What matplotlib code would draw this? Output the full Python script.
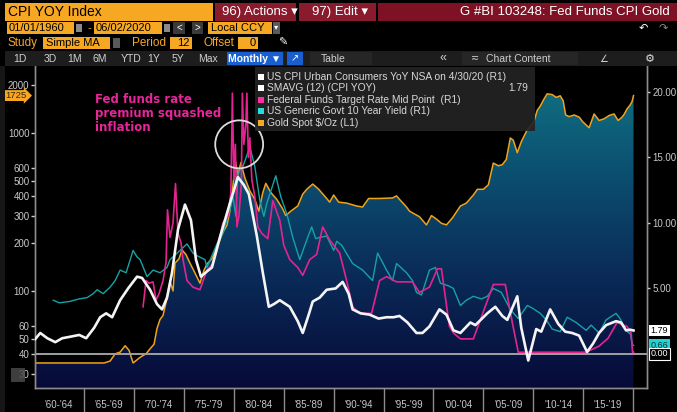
import matplotlib
matplotlib.use("Agg")
import matplotlib.pyplot as plt
import matplotlib.transforms as mtransforms
from matplotlib.colors import LinearSegmentedColormap
from matplotlib.patches import Rectangle, Ellipse
from matplotlib.ticker import NullLocator, NullFormatter
import numpy as np

plt.rcParams['font.family'] = ['Liberation Sans', 'DejaVu Sans']

# ---- data ----
# gold spot $/oz (left log axis)
gold_years = [1960.05, 1967.0, 1967.6, 1968.1, 1968.6, 1969.1, 1969.5, 1969.9, 1970.6, 1971.2,
              1971.6, 1972.0, 1972.3, 1972.6, 1972.9, 1973.3, 1973.6, 1973.9, 1974.1, 1974.5,
              1974.8, 1975.2, 1975.6, 1976.1, 1976.6, 1977.0, 1977.3, 1977.8, 1978.3, 1978.6,
              1978.9, 1979.3, 1979.6, 1979.9, 1980.15, 1980.4, 1980.7, 1981.1, 1981.6, 1982.1,
              1982.5, 1982.9, 1983.2, 1983.7, 1984.3, 1984.9, 1985.2, 1985.7, 1986.4, 1986.9,
              1987.3, 1987.9, 1988.5, 1989.3, 1989.6, 1990.0, 1990.5, 1991.3, 1992.3, 1992.9,
              1993.5, 1994.6, 1995.9, 1996.3, 1996.6, 1997.3, 1997.6, 1998.6, 1999.3, 1999.8,
              2000.3, 2000.8, 2001.3, 2001.9, 2002.7, 2003.3, 2004.0, 2004.4, 2005.0, 2005.5,
              2006.0, 2006.5, 2006.9, 2007.3, 2007.7, 2008.0, 2008.4, 2008.8, 2009.4, 2009.8,
              2010.1, 2010.4, 2010.7, 2011.1, 2011.4, 2011.9, 2012.3, 2012.7, 2013.0, 2013.25,
              2013.6, 2014.1, 2014.6, 2015.0, 2015.6, 2016.1, 2016.6, 2017.1, 2017.6, 2018.1,
              2018.5, 2018.9, 2019.1, 2019.4, 2019.7, 2019.9, 2020.05]
gold_usd = [35, 35, 36, 40, 41, 45, 42, 35, 38, 40,
            43, 46, 58, 66, 70, 90, 115, 100, 150, 160,
            182, 170, 150, 130, 112, 135, 148, 160, 190, 210,
            235, 260, 320, 460, 665, 540, 650, 520, 430, 380,
            320, 420, 480, 420, 380, 330, 300, 320, 345, 410,
            440, 475, 440, 385, 365, 405, 365, 360, 345, 340,
            385, 385, 388, 400, 380, 340, 320, 295, 262, 300,
            285, 268, 262, 290, 345, 360, 405, 440, 440, 470,
            645, 620, 630, 680, 930, 900, 750, 880, 1050, 1120,
            1200, 1390, 1480, 1650, 1770, 1750, 1680, 1720, 1600, 1300,
            1270, 1300, 1260, 1170, 1080, 1320, 1200, 1230, 1290, 1320,
            1200, 1260, 1310, 1420, 1500, 1580, 1725]

# SMAVG(12) of CPI YoY (right axis)
cpi_years = [1960.05, 1960.6, 1961.3, 1962.1, 1962.8, 1963.5, 1964.5, 1965.2, 1966.0, 1966.6,
             1967.2, 1967.8, 1968.6, 1969.4, 1970.3, 1970.8, 1971.6, 1972.3, 1972.8, 1973.3,
             1973.8, 1974.4, 1975.1, 1975.7, 1976.2, 1976.7, 1977.3, 1977.8, 1978.6, 1979.6,
             1980.4, 1981.0, 1981.5, 1982.3, 1982.9, 1983.5, 1984.0, 1984.6, 1985.6, 1986.4,
             1986.9, 1987.5, 1987.9, 1988.6, 1989.3, 1990.2, 1990.9, 1991.5, 1991.9, 1992.7,
             1993.6, 1994.5, 1995.3, 1996.0, 1996.6, 1997.4, 1998.3, 1998.9, 1999.6, 2000.6,
             2001.3, 2002.0, 2002.7, 2003.7, 2004.2, 2005.4, 2006.2, 2006.9, 2007.4, 2008.4,
             2008.8, 2009.5, 2010.3, 2010.8, 2011.7, 2012.5, 2013.2, 2013.9, 2014.6, 2015.4,
             2016.0, 2016.6, 2017.3, 2018.3, 2018.8, 2019.3, 2019.7, 2020.05]
cpi_smavg = [1.1, 1.6, 1.2, 0.9, 1.2, 1.3, 1.45, 1.2, 2.0, 2.8,
             3.1, 2.8, 4.1, 5.0, 5.9, 5.8, 4.9, 3.8, 3.4, 4.3,
             6.2, 9.5, 11.4, 10.2, 7.2, 5.9, 6.3, 6.6, 8.9, 11.5,
             13.5, 12.9, 12.2, 9.0, 6.2, 3.6, 3.8, 4.1, 3.6, 2.5,
             1.6, 3.0, 4.0, 4.3, 4.9, 5.0, 5.5, 4.6, 3.4, 3.1,
             3.0, 2.7, 2.8, 2.8, 2.9, 2.4, 1.6, 1.6, 2.1, 3.4,
             3.0, 1.8, 1.6, 2.4, 2.2, 3.1, 3.6, 2.9, 2.6, 4.4,
             2.0, -0.5, 1.9, 1.7, 3.4, 2.3, 1.7, 1.6, 1.4, 0.15,
             0.8, 1.6, 2.2, 2.5, 2.4, 1.8, 1.85, 1.79]

# fed funds target rate mid point (right axis)
ff_years = [1970.9, 1971.2, 1971.5, 1971.9, 1972.2, 1972.5, 1972.9, 1973.2, 1973.35, 1973.6,
            1973.9, 1974.15, 1974.4, 1974.7, 1974.9, 1975.3, 1975.9, 1976.6, 1977.3, 1977.9,
            1978.3, 1978.9, 1979.4, 1979.7, 1979.85, 1980.0, 1980.15, 1980.3, 1980.5, 1980.75,
            1980.85, 1981.0, 1981.2, 1981.3, 1981.45, 1981.6, 1981.8, 1982.1, 1982.4, 1982.8,
            1983.4, 1983.9, 1984.6, 1985.0, 1985.6, 1986.4, 1986.9, 1987.6, 1988.3, 1988.9,
            1989.6, 1990.6, 1991.3, 1991.9, 1992.6, 1993.8, 1994.6, 1995.3, 1996.3, 1997.9,
            1998.6, 1999.6, 2000.4, 2000.8, 2001.6, 2002.0, 2002.7, 2004.0, 2006.0, 2007.2,
            2007.9, 2008.5, 2015.3, 2016.6, 2017.5, 2018.4, 2019.4, 2019.8, 2019.95, 2020.05]
ff_rate = [3.6, 5.6, 5.4, 5.5, 4.1, 4.6, 5.6, 7.0, 11.0, 8.9,
           10.0, 13.0, 9.2, 8.5, 7.2, 5.6, 5.1, 4.9, 6.4, 6.9,
           7.9, 10.0, 10.5, 12.3, 19.9, 13.3, 16.0, 9.7, 10.5, 13.0,
           19.9, 16.0, 17.5, 19.9, 15.0, 16.5, 13.3, 12.0, 9.7, 9.2,
           8.8, 11.7, 10.2, 8.3, 7.2, 6.6, 6.0, 7.2, 7.6, 9.7,
           8.7, 7.7, 5.6, 3.6, 3.1, 3.1, 5.6, 5.9, 5.5, 5.5,
           4.7, 5.1, 6.5, 6.5, 2.1, 1.6, 1.15, 1.15, 5.3, 5.3,
           2.4, 0.13, 0.13, 0.6, 1.2, 2.4, 2.1, 1.6, 0.13, 0.13]

# US generic govt 10 year yield (right axis)
y10_years = [1961.9, 1962.5, 1963.5, 1964.5, 1965.3, 1965.9, 1966.3, 1966.9, 1967.6, 1968.1,
             1968.6, 1969.2, 1969.9, 1970.3, 1970.6, 1971.3, 1971.9, 1972.6, 1973.3, 1973.6,
             1974.6, 1975.3, 1975.9, 1976.3, 1977.1, 1977.3, 1978.3, 1978.9, 1979.6, 1979.9,
             1980.2, 1980.4, 1980.9, 1981.6, 1982.1, 1982.6, 1983.0, 1983.3, 1984.2, 1984.7,
             1985.3, 1985.9, 1986.6, 1987.3, 1987.8, 1988.2, 1988.6, 1989.3, 1990.0, 1990.3,
             1990.8, 1991.9, 1992.9, 1993.9, 1994.4, 1995.3, 1995.9, 1996.3, 1997.3, 1997.9,
             1998.3, 1998.8, 1999.6, 2000.2, 2000.7, 2001.5, 2002.0, 2002.7, 2003.3, 2004.0,
             2004.8, 2005.4, 2006.0, 2006.8, 2007.7, 2008.5, 2009.4, 2009.9, 2010.7, 2011.3,
             2011.9, 2012.7, 2013.4, 2014.3, 2015.3, 2015.8, 2016.6, 2017.3, 2018.3, 2018.7,
             2019.3, 2019.75, 2019.95, 2020.05]
y10_yield = [4.1, 3.9, 4.0, 4.2, 4.3, 4.6, 4.9, 4.6, 5.1, 5.6,
             6.4, 6.2, 7.9, 7.4, 7.2, 5.9, 6.4, 6.2, 6.6, 7.2,
             7.9, 8.4, 7.7, 7.5, 7.2, 6.6, 8.4, 9.2, 11.0, 12.0,
             10.5, 13.8, 14.3, 15.8, 14.3, 11.7, 10.5, 11.5, 13.6, 12.0,
             10.7, 8.9, 7.2, 8.7, 9.7, 8.8, 8.9, 9.0, 7.9, 8.6,
             8.3, 6.9, 6.4, 5.6, 7.7, 6.4, 5.6, 6.9, 6.2, 5.6,
             4.7, 4.5, 6.4, 6.6, 5.4, 5.2, 5.0, 3.7, 4.1, 4.4,
             4.2, 4.4, 5.0, 4.7, 3.4, 2.7, 3.7, 3.5, 3.1, 2.6,
             1.9, 1.7, 2.8, 2.4, 1.8, 2.2, 1.6, 2.6, 3.1, 2.7,
             1.8, 1.5, 0.66, 0.66]

left_ticks = [30, 40, 50, 60, 100, 200, 300, 400, 500, 600, 1000, 2000]
right_ticks = [5, 10, 15, 20]
period_labels = ["'60-'64", "'65-'69", "'70-'74", "'75-'79", "'80-'84", "'85-'89",
                 "'90-'94", "'95-'99", "'00-'04", "'05-'09", "'10-'14", "'15-'19"]
period_starts = list(range(1960, 2020, 5))

assert len(gold_years) == len(gold_usd)
assert len(cpi_years) == len(cpi_smavg)
assert len(ff_years) == len(ff_rate)
assert len(y10_years) == len(y10_yield)

# colours
ORANGE = '#f7a823'
MAROON = '#8a1b2d'
GOLD = '#f0a21c'
MAGENTA = '#e3248f'
CYAN = '#17a2a4'
WHITE = '#f4f4f4'
AXIS = '#8c8c8c'
TXT = '#c9c9c9'

W, H = 677, 412
fig = plt.figure(figsize=(W / 100, H / 100), dpi=100, facecolor='black')


def box(x0, y0, x1, y1, color, **kw):
    # rectangle given in screen pixels (y from top)
    fig.add_artist(Rectangle((x0 / W, 1 - y1 / H), (x1 - x0) / W, (y1 - y0) / H,
                             transform=fig.transFigure, facecolor=color,
                             edgecolor='none', **kw))


def label(x, y, s, color='black', size=8, ha='left', **kw):
    fig.text(x / W, 1 - y / H, s, color=color, fontsize=size, ha=ha, va='center', **kw)


# ---- toolbar (terminal header) ----
box(5, 3, 213, 21, ORANGE)
label(8, 12, 'CPI YOY Index', size=10)
box(215, 3, 296, 21, MAROON)
label(222, 12, '96) Actions \u25be', color='white', size=9.5)
box(299, 3, 376, 21, MAROON)
label(312, 12, '97) Edit \u25be', color='white', size=9.5)
box(378, 3, 677, 21, '#7e1224')
label(670, 12, 'G #BI 103248: Fed Funds CPI Gold', color='white', size=9.5, ha='right')

box(7, 22, 74, 34, ORANGE)
label(9, 28, '01/01/1960', size=8)
box(76, 24, 82, 32, '#8a8a8a')
label(87, 28, '-', color=ORANGE, size=8)
box(94, 22, 162, 34, ORANGE)
label(96, 28, '06/02/2020', size=8)
box(164, 24, 170, 32, '#8a8a8a')
box(173, 22, 185, 34, '#3a3a3a')
label(179, 28, '<', color='white', size=7, ha='center')
box(192, 22, 203, 34, '#3a3a3a')
label(197.5, 28, '>', color='white', size=7, ha='center')
box(208, 22, 272, 34, ORANGE)
label(211, 28, 'Local CCY', size=8)
box(273, 22, 280, 34, '#5a5a5a')
label(276.5, 28, '\u25be', color='white', size=6, ha='center')
label(643, 28, '\u21b6', color='white', size=8, ha='center')
label(663, 28, '\u21b7', color='#888888', size=8, ha='center')

label(7, 43, 'Study', color=ORANGE, size=8.5)
box(43, 37, 110, 49, ORANGE)
label(46, 43, 'Simple MA', size=8)
box(113, 38, 120, 48, '#5a5a5a')
label(132, 43, 'Period', color=ORANGE, size=8.5)
box(170, 37, 192, 49, ORANGE)
label(190, 43, '12', size=8, ha='right')
label(203, 43, 'Offset', color=ORANGE, size=8.5)
box(238, 37, 258, 49, ORANGE)
label(256, 43, '0', size=8, ha='right')
label(283, 43, '\u270e', color='white', size=8, ha='center')

box(5, 51, 677, 66, '#1d1d1d')
for xc, s in zip([20, 50, 75, 100, 131, 154, 178, 208],
                 ['1D', '3D', '1M', '6M', 'YTD', '1Y', '5Y', 'Max']):
    label(xc, 58.5, s, color='#cfcfcf', size=7.5, ha='center')
box(227, 52, 283, 65, '#1a5fd0')
label(255, 58.5, 'Monthly \u25bc', color='white', size=7.5, ha='center', weight='bold')
box(287, 52, 303, 65, '#1a5fd0')
label(295, 58.5, '\u2197', color='white', size=7, ha='center')
box(310, 52, 372, 65, '#262626')
label(333, 58.5, 'Table', color='#cfcfcf', size=7.5, ha='center')
label(443, 58.5, '\u00ab', color='#cfcfcf', size=9, ha='center')
box(462, 52, 578, 65, '#262626')
label(475, 58.5, '\u2242', color='#cfcfcf', size=7, ha='center')
label(486, 58.5, 'Chart Content', color='#cfcfcf', size=7.5)
label(604, 58.5, '\u2220', color='#cfcfcf', size=7, ha='center')
label(650, 58.5, '\u2699', color='#e0e0e0', size=8, ha='center')
box(0, 66, 5, 412, '#161616')

# ---- plot area ----
L, R, T, B = 35, 647, 66, 388
rect = [L / W, 1 - B / H, (R - L) / W, (B - T) / H]

# gradient that shows through below the gold line
bg = fig.add_axes(rect, label='gradient')
bg.set_axis_off()
cmap = LinearSegmentedColormap.from_list(
    'fill', [(0, '#070a38'), (0.35, '#0a2b58'), (0.7, '#0c5373'), (1, '#117683')])
grad = np.linspace(0, 1, 256).reshape(-1, 1)
img = bg.imshow(grad, cmap=cmap, aspect='auto', extent=[0, 1, 0, 1],
                origin='lower', interpolation='bilinear')
bg.set_xlim(0, 1)
bg.set_ylim(0, 1)

ax = fig.add_axes(rect, label='gold')
ax.patch.set_visible(False)
ax.set_yscale('log')
ax.set_xlim(1960.07, 2021.4)
ax.set_ylim(24.3, 2655)
area = ax.fill_between(gold_years, gold_usd, 1, facecolor='none', edgecolor='none')
img.set_clip_path(area.get_paths()[0], ax.transData)
ax.plot(gold_years, gold_usd, color=GOLD, lw=1.1, zorder=3)

ax2 = ax.twinx()
ax2.set_ylim(-2.6, 21.98)
ax2.axhline(0, color='#a0a0a0', lw=1.4, zorder=1)
ax2.plot(y10_years, y10_yield, color=CYAN, lw=1.0, zorder=2)
ax2.plot(ff_years, ff_rate, color=MAGENTA, lw=1.2, zorder=3)
ax2.plot(cpi_years, cpi_smavg, color=WHITE, lw=1.9, zorder=4, solid_joinstyle='round')

# axes styling
for a in (ax, ax2):
    a.spines['top'].set_visible(False)
    for s in ('left', 'right', 'bottom'):
        a.spines[s].set_color(AXIS)
        a.spines[s].set_linewidth(1.0)

ax.set_yticks(left_ticks)
ax.set_yticklabels([str(v) for v in left_ticks])
ax.yaxis.set_minor_locator(NullLocator())
ax.yaxis.set_minor_formatter(NullFormatter())
ax.tick_params(axis='y', colors=TXT, labelsize=7, length=3, width=1, pad=1)

ax.set_xticks(range(1965, 2021, 5))
ax.set_xticklabels([''] * len(range(1965, 2021, 5)))
ax.set_xticks([p + 2.5 for p in period_starts], minor=True)
ax.set_xticklabels(period_labels, minor=True)
ax.tick_params(axis='x', which='major', length=17, width=1, color=AXIS)
ax.tick_params(axis='x', which='minor', length=0, pad=9, labelsize=7, labelcolor=TXT)

ax2.set_yticks(right_ticks)
ax2.set_yticklabels(['%.2f' % v for v in right_ticks])
ax2.tick_params(axis='y', colors=TXT, labelsize=7, length=2, width=1, pad=2)

# last-value tags on both axes
tr_right = mtransforms.blended_transform_factory(ax2.transAxes, ax2.transData)
tr_left = mtransforms.blended_transform_factory(ax.transAxes, ax.transData)
ax2.text(1.006, y10_yield[-1], '%.2f' % y10_yield[-1], transform=tr_right, fontsize=6.5,
         color='#053030', va='center', clip_on=False,
         bbox=dict(boxstyle='square,pad=0.15', fc='#22d3d3', ec='none'))
ax2.text(1.006, cpi_smavg[-1], '%.2f' % cpi_smavg[-1], transform=tr_right, fontsize=6.5,
         color='black', va='center', clip_on=False,
         bbox=dict(boxstyle='square,pad=0.15', fc='white', ec='none'))
ax2.text(1.006, 0, '0.00', transform=tr_right, fontsize=6.5, color='white', va='center',
         clip_on=False, bbox=dict(boxstyle='square,pad=0.15', fc='black', ec='white', lw=0.8))
ax.text(-0.049, gold_usd[-1], '%d' % gold_usd[-1], transform=tr_left, fontsize=6.8,
        color='#3a2000', va='center', clip_on=False,
        bbox=dict(boxstyle='rarrow,pad=0.1', fc=ORANGE, ec='none'))

# annotation
ax2.add_patch(Ellipse((1980.53, 16.0), 4.8, 3.66, fill=False, ec='#dcdcdc', lw=1.3, zorder=5))
ax2.text(1966.1, 19.9, 'Fed funds rate\npremium squashed\ninflation', color='#e8259a',
         fontsize=8.5, fontweight='bold', family='DejaVu Sans', va='top', ha='left',
         linespacing=1.1, zorder=6)

# legend panel
box(255, 67, 535, 131, '#232323', alpha=0.92, zorder=2)
legend_rows = [('US CPI Urban Consumers YoY NSA on 4/30/20 (R1)', '#ffffff'),
               ('SMAVG (12) (CPI YOY)', '#ffffff'),
               ('Federal Funds Target Rate Mid Point  (R1)', '#ff2ca6'),
               ('US Generic Govt 10 Year Yield (R1)', '#26dcdc'),
               (r'Gold Spot \$/Oz (L1)', ORANGE)]
for i, (name, col) in enumerate(legend_rows):
    yc = 77 + i * 11.4
    box(258, yc - 3, 264, yc + 3, col, zorder=3)
    label(267, yc, name, color='#d8d8d8', size=7.4, zorder=3)
label(528, 77 + 11.4, '%.2f' % cpi_smavg[-1], color='#d8d8d8', size=7.4, ha='right', zorder=3)

# small icon over the bottom of the left axis
box(11, 368, 25, 382, '#4a4a4a', alpha=0.85, zorder=2)

fig.savefig('out.png', dpi=100, facecolor='black')
